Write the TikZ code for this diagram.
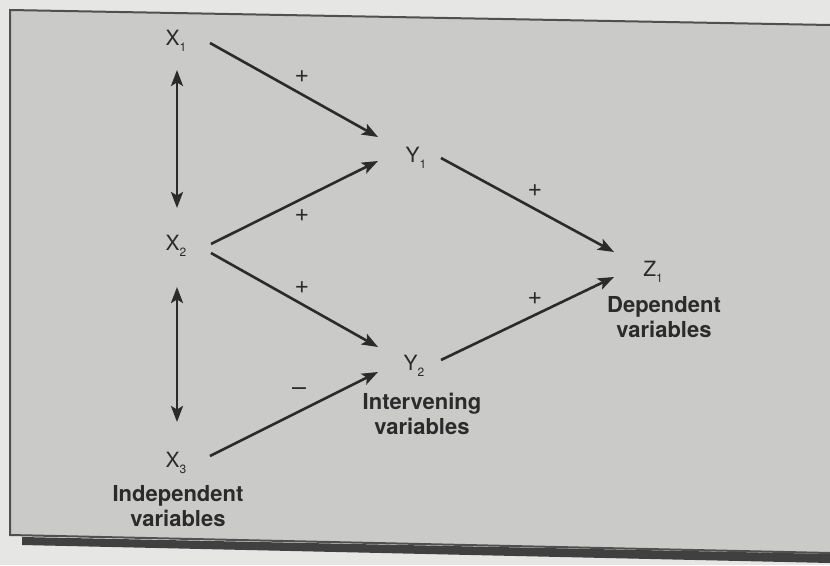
\documentclass[tikz,border=0pt]{standalone}
\usepackage{fontspec}
\setmainfont{TeX Gyre Heros}
\usetikzlibrary{arrows.meta}
\definecolor{pagebg}{HTML}{E6E6E4}
\definecolor{boxbg}{HTML}{CACAC8}
\definecolor{ink}{HTML}{2B2B2B}
\definecolor{framec}{HTML}{505050}
\tikzset{
  var/.style={text=ink, font=\fontsize{21}{24}\selectfont, inner sep=0pt},
  lab/.style={text=ink, font=\fontsize{22}{25.5}\selectfont\bfseries, align=center, inner sep=0pt},
  sign/.style={text=ink, font=\fontsize{25}{25}\selectfont, inner sep=0pt},
  arr/.style={draw=ink, line width=2.6pt, -{Stealth[length=16pt,width=12pt,inset=3.5pt]}},
  darr/.style={draw=ink, line width=2.6pt, {Stealth[length=16pt,width=12pt,inset=3.5pt]}-{Stealth[length=16pt,width=12pt,inset=3.5pt]}}
}
\newcommand{\sbx}[1]{\raisebox{-6pt}{\fontsize{12}{12}\selectfont #1}}
\begin{document}
\begin{tikzpicture}[x=1pt,y=-1pt]
\useasboundingbox (0,0) rectangle (830,565);
\fill[pagebg] (0,0) rectangle (830,565);
% box
\fill[boxbg] (10,10) -- (830,25) -- (830,553) -- (10,535) -- cycle;
\draw[framec, line width=2pt] (830,25) -- (10,10) -- (10,535) -- (830,553);
\fill[ink!90] (22,537) -- (830,554) -- (830,563) -- (22,545) -- cycle;
% variables
\node[var] (X1) at (176,41) {X\sbx{1}};
\node[var] (X2) at (176,246) {X\sbx{2}};
\node[var] (X3) at (176,463) {X\sbx{3}};
\node[var] (Y1) at (416,158) {Y\sbx{1}};
\node[var] (Y2) at (414,366) {Y\sbx{2}};
\node[var] (Z1) at (653,272) {Z\sbx{1}};
% labels
\node[lab] (Lind) at (178,506) {Independent\\variables};
\node[lab] (Lint) at (422,414) {Intervening\\variables};
\node[lab] (Ldep) at (664,317) {Dependent\\variables};
% arrows
\draw[arr] ([shift={(34,2)}]X1.center) -- ([shift={(-38,-21)}]Y1.center);
\draw[arr] ([shift={(35,-2)}]X2.center) -- ([shift={(-38,3)}]Y1.center);
\draw[arr] ([shift={(35,7)}]X2.center) -- ([shift={(-36,-19)}]Y2.center);
\draw[arr] ([shift={(34,-7)}]X3.center) -- ([shift={(-36,6)}]Y2.center);
\draw[arr] ([shift={(25,0)}]Y1.center) -- ([shift={(-39,-20)}]Z1.center);
\draw[arr] ([shift={(27,-6)}]Y2.center) -- ([shift={(-39,5)}]Z1.center);
\draw[darr] ([shift={(1,29)}]X1.center) -- ([shift={(1,-38)}]X2.center);
\draw[darr] ([shift={(1,41)}]X2.center) -- ([shift={(1,-41)}]X3.center);
% signs
\node[sign] (s1) at (302,77) {+};
\node[sign] (s2) at (302,216) {+};
\node[sign] (s3) at (302,288) {+};
\node[sign] (s4) at (299,392) {–};
\node[sign] (s5) at (535,191) {+};
\node[sign] (s6) at (535,299) {+};
\end{tikzpicture}
\end{document}
